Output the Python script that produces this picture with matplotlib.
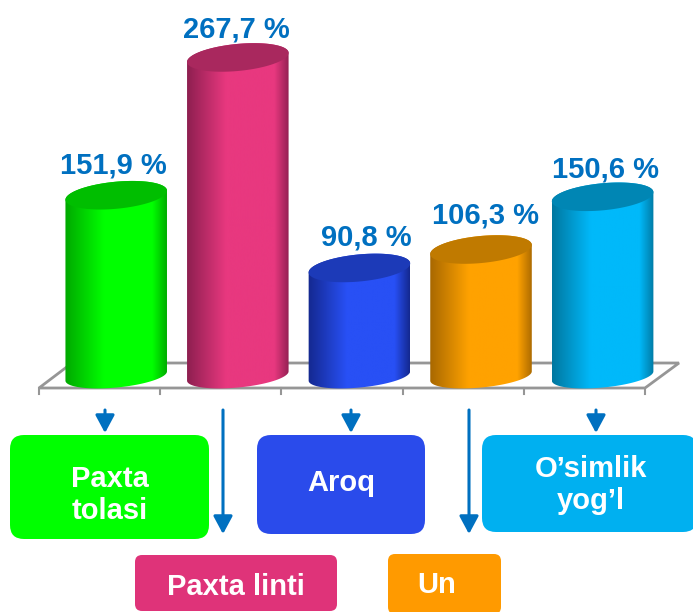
import numpy as np
import matplotlib
matplotlib.use('Agg')
import matplotlib.pyplot as plt
from matplotlib.patches import FancyBboxPatch, PathPatch, Polygon
from matplotlib.path import Path
from matplotlib.colors import LinearSegmentedColormap

plt.rcParams['font.family'] = ['Liberation Sans', 'DejaVu Sans']

# Datos
categories = ['Paxta\ntolasi', 'Paxta linti', 'Aroq', 'Un', 'O’simlik\nyog’l']
values = [151.9, 267.7, 90.8, 106.3, 150.6]
value_labels = ['151,9 %', '267,7 %', '90,8 %', '106,3 %', '150,6 %']

# Colores: claro, oscuro, tapa
colors = ['#00FF00', '#E8387F', '#2850F5', '#FFA200', '#00B9FA']
dark = ['#00A800', '#8E1F50', '#14288F', '#A86800', '#00779F']
caps = ['#00BE00', '#A9285E', '#1C3AB8', '#C07A00', '#0086B4']
box_colors = ['#00FF00', '#DF3379', '#2A4BEB', '#FF9A00', '#00B0F0']
blue = '#0070C0'

W, H = 693, 612
fig = plt.figure(figsize=(W / 100, H / 100), dpi=100)

# Ejes en pixeles para el suelo
pix = fig.add_axes([0, 0, 1, 1])
pix.set_xlim(0, W)
pix.set_ylim(H, 0)
pix.axis('off')

# Ejes de la grafica: una categoria = 121.6 px, 1 % = 1.19 px, y = 0 en y = 376 px
PX_X = 121.6
PX_Y = 1.19
X0, Y0 = 39, 376
ax = fig.add_axes([0, 0, 1, 1], facecolor='none')
ax.axis('off')

# Suelo en perspectiva
floor_color = '#969696'
floor = [(39, 388), (72, 363), (679, 363), (645, 388)]
pix.add_patch(Polygon(floor, closed=True, fc='white', ec=floor_color, lw=2, zorder=1))
for i in range(6):
    tx = 39 + i * 121.2
    pix.plot([tx, tx], [388, 394], color=floor_color, lw=1.5, zorder=1)

A, TILT = 51, np.radians(5.5)
B_BOTTOM, B_TOP = 11.5, 13.5


def ellipse(cx, cy, t, b):
    # devuelve puntos en coordenadas de datos; dx, dy en pixeles
    dx = A * np.cos(t) * np.cos(TILT) - b * np.sin(t) * np.sin(TILT)
    dy = A * np.cos(t) * np.sin(TILT) + b * np.sin(t) * np.cos(TILT)
    return cx + dx / PX_X, cy + dy / PX_Y


centers = np.arange(len(values)) + 0.635
for i, (c, v) in enumerate(zip(centers, values)):
    # contorno: arco inferior de izquierda a derecha, arco superior de vuelta
    x1, y1 = ellipse(c, 0, np.linspace(np.pi, 2 * np.pi, 60), B_BOTTOM)
    x2, y2 = ellipse(c, v, np.linspace(0, np.pi, 60), B_TOP)
    verts = np.column_stack([np.r_[x1, x2], np.r_[y1, y2]])
    verts = np.vstack([verts, verts[0]])
    body = PathPatch(Path(verts), fc='none', ec='none', zorder=3)
    ax.add_patch(body)

    cmap = LinearSegmentedColormap.from_list(
        'c', [(0, dark[i]), (0.38, colors[i]), (0.6, colors[i]),
              (0.85, colors[i]), (1, dark[i])])
    grad = np.linspace(0, 1, 256).reshape(1, -1)
    left = c - A / PX_X
    right = c + A / PX_X
    im = ax.imshow(grad, cmap=cmap, extent=[left, right, -20, v + 20],
                   aspect='auto', zorder=3)
    im.set_clip_path(body)

    xc, yc = ellipse(c, v, np.linspace(0, 2 * np.pi, 120), B_TOP)
    ax.fill(xc, yc, color=caps[i], lw=0, zorder=4)

ax.set_xlim(-X0 / PX_X, (W - X0) / PX_X)
ax.set_ylim((Y0 - H) / PX_Y, Y0 / PX_Y)

# Ejes en pixeles por encima, para etiquetas, cajas y flechas
top = fig.add_axes([0, 0, 1, 1], facecolor='none')
top.set_xlim(0, W)
top.set_ylim(H, 0)
top.axis('off')

label_pos = [(113, 165), (236, 29), (366, 237), (485, 216), (605, 169)]
for (lx, ly), lab in zip(label_pos, value_labels):
    top.text(lx, ly, lab, ha='center', va='center', color=blue,
             fontsize=21, fontweight='bold')

# Cajas de la leyenda
boxes = [(10, 435, 199, 104), (135, 555, 202, 56), (257, 435, 168, 99),
         (388, 554, 113, 60), (482, 435, 215, 97)]
text_pos = [(110, 495), (236, 587), (341, 483), (437, 585), (591, 485)]
for i, (bx, by, bw, bh) in enumerate(boxes):
    r = 14 if bh > 80 else 7
    top.add_patch(FancyBboxPatch((bx + r, by + r), bw - 2 * r, bh - 2 * r,
                                 boxstyle=f'round,pad={r},rounding_size={r}',
                                 fc=box_colors[i], ec='none', zorder=2))
    top.text(text_pos[i][0], text_pos[i][1], categories[i], ha='center', va='center',
             color='white', fontsize=21, fontweight='bold', linespacing=1.2, zorder=3)

# Flechas
arrows = [(105, 433), (223, 534), (351, 433), (469, 534), (596, 433)]
for ar_x, y_end in arrows:
    top.annotate('', xy=(ar_x, y_end), xytext=(ar_x, 410),
                 arrowprops=dict(arrowstyle='-|>,head_width=0.58,head_length=1.08',
                                 color=blue, lw=2.2, shrinkA=0, shrinkB=0))

fig.savefig('out.png', dpi=100, facecolor='white')
